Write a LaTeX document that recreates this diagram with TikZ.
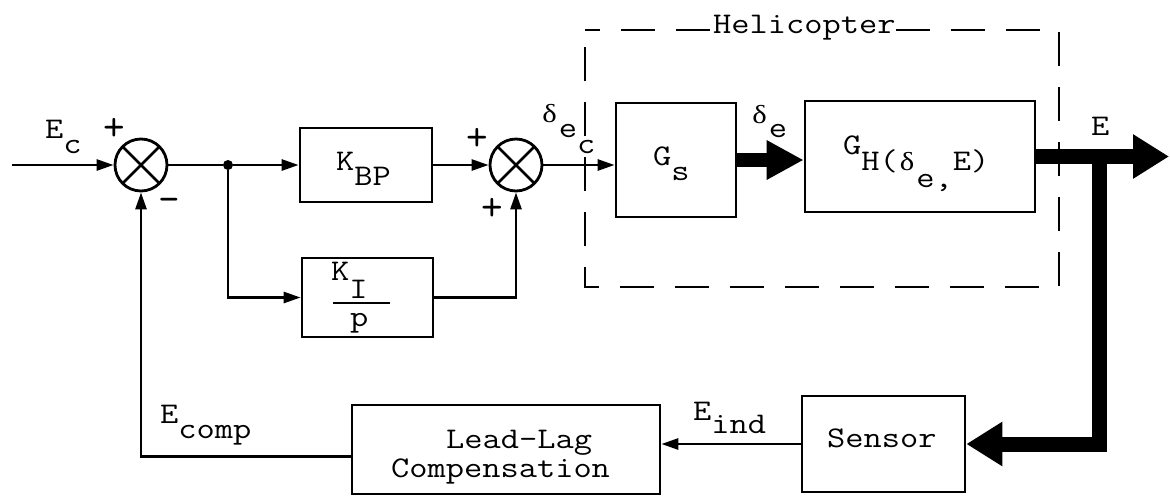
\documentclass[tikz,border=0pt]{standalone}
\usepackage{fontspec}
\usepackage{graphicx}
\newfontfamily\grk{Liberation Serif}
\usetikzlibrary{arrows.meta}
\newcommand\lfont{\ttfamily\fontsize{30pt}{36pt}\selectfont}
\newcommand\sfnt{\ttfamily\fontsize{42pt}{46pt}\selectfont}
\newcommand\lowr[2][15pt]{\raisebox{-#1}{#2}}
\newcommand\tw[1]{\scalebox{1.18}[1]{#1}}
\newcommand\dl{\makebox[15.75pt]{\grk\fontsize{26pt}{30pt}\selectfont δ}}
\begin{document}
\begin{tikzpicture}[x=1pt,y=-1pt,
  ln/.style={line width=2.7pt},
  arr/.style={ln,-{Triangle[length=17pt,width=11pt]}},
  thk/.style={line width=15pt,-{Triangle[length=36pt,width=42pt]}},
  thkm/.style={line width=14pt,-{Triangle[length=37pt,width=37pt]}},
  blk/.style={draw,line width=2.7pt,inner sep=0pt},
  sumj/.style={circle,draw,line width=2.8pt,minimum size=52pt,inner sep=0pt,
    path picture={\draw[line width=2.8pt]
      (path picture bounding box.north west)--(path picture bounding box.south east)
      (path picture bounding box.north east)--(path picture bounding box.south west);}},
  lbl/.style={inner sep=0pt,anchor=base west,font=\lfont},
  sgn/.style={inner sep=0pt,font=\sfnt},
  dotn/.style={circle,fill,inner sep=0pt,minimum size=10pt},
  helibox/.style={line width=2.7pt,dash pattern=on 34pt off 21pt,dash phase=19pt}]
\useasboundingbox (0,0) rectangle (1170,499);

% helicopter dashed frame
\draw[helibox] (585,30) -- (1059,30) -- (1059,287) -- (585,287) -- cycle;
\node[lbl,fill=white] (heli) at (713,33) {\tw{Helicopter}};

% blocks
\node[sumj] (s1) at (141,165) {};
\node[dotn] (br) at (228,165) {};
\node[blk,minimum width=132pt,minimum height=74pt] (kbp) at (366,165) {};
\node[blk,minimum width=131pt,minimum height=79pt] (ki) at (367.5,297.5) {};
\node[sumj] (s2) at (516,165) {};
\node[blk,minimum width=120pt,minimum height=114pt] (gs) at (676,160) {};
\node[blk,minimum width=230pt,minimum height=111pt] (gh) at (920,156.5) {};
\node[blk,minimum width=308pt,minimum height=89pt] (lead) at (506,449.5) {};
\node[blk,minimum width=163pt,minimum height=96pt] (sens) at (883.5,444) {};

\coordinate (in) at (12,165);
\coordinate (out) at (1169,156.5);
\coordinate (tap) at (1099,156.5);

% connectors
\draw[arr] (in) -- (s1.west);
\draw[ln] (s1.east) -- (br);
\draw[arr] (br) -- (br -| kbp.west);
\draw[arr] (br) |- (ki.west);
\draw[arr] (kbp.east) -- (s2.west);
\draw[arr] (ki.east) -| (s2.south);
\draw[arr] (s2.east) -- (s2.east -| gs.west);
\draw[thkm] (gs.east) -- (gs.east -| gh.west);
\draw[thk] (gh.east) -- (out);
\draw[thk] (tap) |- (sens.east);
\draw[arr] (sens.west) -- (sens.west -| lead.east);
\draw[arr] ([yshift=-7pt]lead.west) -| (s1.south);

% labels
\node[lbl] (ec) at (45,138) {\tw{E\lowr{c}}};
\node[sgn] (p1) at (114,129) {+};
\node[sgn] (m1) at (169,205) {-};
\node[lbl] (kbpt) at (336,170) {\tw{K\lowr{BP}}};
\node[lbl] (kit) at (331,280) {\tw{K\lowr[18pt]{I}}};
\draw[line width=2pt] (333,303) -- (390,303);
\node[lbl] (pt) at (350,326) {\tw{p}};
\node[sgn] (p2) at (477,139) {+};
\node[sgn] (p3) at (492,209) {+};
\node[lbl] (dec) at (540,122) {\tw{\dl\lowr{e\lowr[16pt]{c}}}};
\node[lbl] (gst) at (653,165) {\tw{G\lowr{s}}};
\node[lbl] (det) at (750,123) {\tw{\dl\lowr[14pt]{e}}};
\node[lbl] (ght) at (843,154) {\tw{G\lowr[16pt]{H(\dl\lowr[17pt]{e,}E)}}};
\node[lbl] (et) at (1091,135) {\tw{E}};
\node[lbl] (ecomp) at (160,423) {\tw{E\lowr{comp}}};
\node[lbl] (eind) at (693,420) {\tw{E\lowr[13pt]{ind}}};
\node[lbl] (ll1) at (446,448) {\tw{Lead-Lag}};
\node[lbl] (ll2) at (391,477) {\tw{Compensation}};
\node[lbl] (senst) at (827,447) {\tw{Sensor}};
\end{tikzpicture}
\end{document}
